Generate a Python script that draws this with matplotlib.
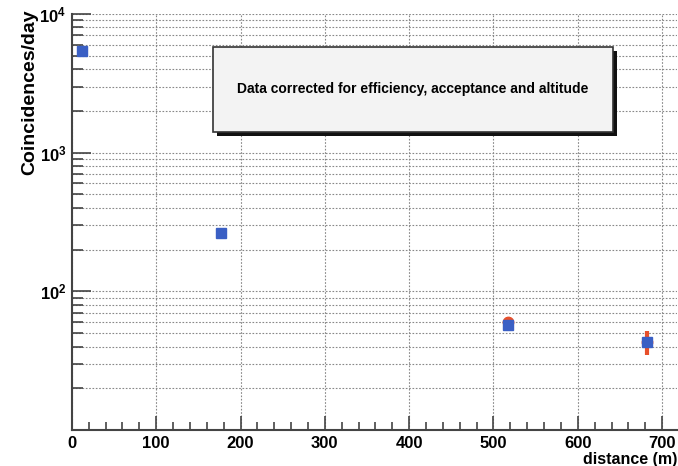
import numpy as np
import matplotlib.pyplot as plt
from matplotlib.ticker import MultipleLocator, LogLocator, FixedLocator
from matplotlib.patches import Rectangle

plt.rcParams['font.family'] = ['Liberation Sans', 'DejaVu Sans']
plt.rcParams['font.weight'] = 'bold'
plt.rcParams['mathtext.default'] = 'bf'

# data
dist_blue = [12, 177, 517, 682]
rate_blue = [5450, 262, 57, 43]
dist_red = [517, 682]
rate_red = [60, 43]
err_red_lo = [5, 8]
err_red_hi = [5, 9]
note = 'Data corrected for efficiency, acceptance and altitude'

fig = plt.figure(figsize=(6.78, 4.66), dpi=100)
ax = fig.add_axes([0.106, 0.077, 0.893, 0.893])

ax.errorbar(dist_red, rate_red, yerr=[err_red_lo, err_red_hi], fmt='o',
            color='#e8502a', ms=7.5, elinewidth=3, capsize=0, zorder=3)
ax.plot(dist_blue, rate_blue, 's', color='#3a5fc4', ms=6.5, zorder=4)

ax.set_yscale('log')
ax.set_xlim(0, 718)
ax.set_ylim(10, 1e4)

ax.xaxis.set_major_locator(MultipleLocator(100))
ax.xaxis.set_minor_locator(MultipleLocator(20))
ax.yaxis.set_major_locator(FixedLocator([1e2, 1e3, 1e4]))
ax.yaxis.set_minor_locator(LogLocator(base=10, subs=np.arange(2, 10)))
ax.yaxis.set_minor_formatter(plt.NullFormatter())

ax.grid(True, which='major', axis='both', color='#888888', ls=(0, (1.5, 1.5)), lw=0.8)
ax.grid(True, which='minor', axis='y', color='#888888', ls=(0, (1.5, 1.5)), lw=0.8)

ax.tick_params(which='major', direction='in', length=10, width=1.2, color='#444444',
               labelsize=12, pad=4)
ax.tick_params(which='minor', direction='in', length=6, width=1.2, color='#444444')
ax.tick_params(axis='y', which='minor', length=8)
ax.tick_params(axis='y', which='major', length=14)

for s in ['top', 'right']:
    ax.spines[s].set_visible(False)
for s in ['left', 'bottom']:
    ax.spines[s].set_linewidth(1.5)
    ax.spines[s].set_color('#444444')

ax.set_ylabel('Coincidences/day', fontsize=14, fontweight='bold')
ax.yaxis.set_label_coords(-0.056, 1.01)
ax.yaxis.label.set_ha('right')
ax.set_xlabel('distance (m)', fontsize=11.5, fontweight='bold')
ax.xaxis.set_label_coords(1.0, -0.052)
ax.xaxis.label.set_ha('right')

# note box with drop shadow
ax.add_patch(Rectangle((0.240, 0.706), 0.660, 0.205, transform=ax.transAxes,
                       fc='#111111', ec='none', zorder=5))
ax.add_patch(Rectangle((0.233, 0.716), 0.660, 0.205, transform=ax.transAxes,
                       fc='#f3f3f3', ec='#333333', lw=1.2, zorder=6))
ax.text(0.563, 0.820, note, transform=ax.transAxes, ha='center', va='center',
        fontsize=10, fontweight='bold', zorder=7)

fig.savefig('out.png', dpi=100)
